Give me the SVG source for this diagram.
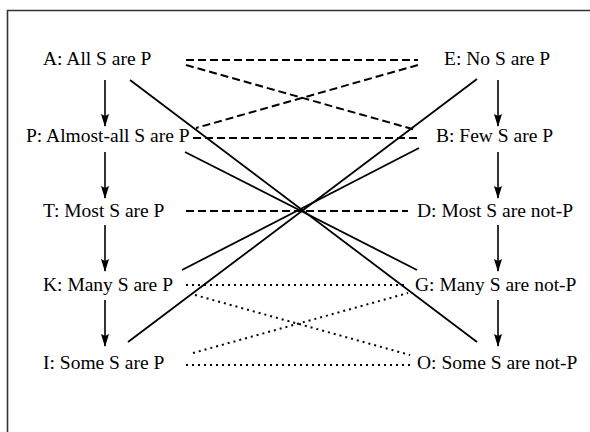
<svg xmlns="http://www.w3.org/2000/svg" width="590" height="432" viewBox="0 0 590 432">
<style>
text{font-family:"Liberation Serif","Times New Roman",serif;font-size:19.5px;fill:#000}
.s{stroke:#000;stroke-width:1.8;fill:none}
.d{stroke:#000;stroke-width:2;fill:none;stroke-dasharray:8 4}
.o{stroke:#000;stroke-width:2;fill:none;stroke-dasharray:2 4}
.a{stroke:#000;stroke-width:1.6;fill:none;marker-end:url(#ah)}
</style>
<defs>
<marker id="ah" markerWidth="13" markerHeight="8" refX="12" refY="4" orient="auto" markerUnits="userSpaceOnUse" viewBox="0 0 13 8">
<path d="M0,0 L13,4 L0,8 L2,4 Z" fill="#000"/>
</marker>
</defs>
<rect x="0" y="0" width="590" height="432" fill="#fff"/>
<path d="M7.5,432 V10.5 H590" stroke="#333" stroke-width="1.6" fill="none"/>
<g id="connectors">
<line class="d" x1="186" y1="60" x2="418" y2="60"/>
<line class="d" x1="186" y1="65" x2="416" y2="130"/>
<line class="d" x1="418" y1="65" x2="196" y2="128"/>
<line class="d" x1="193" y1="138" x2="418" y2="138"/>
<line class="d" x1="186" y1="211" x2="408" y2="211"/>
<line class="o" x1="186" y1="285" x2="407" y2="285"/>
<line class="o" x1="195" y1="295" x2="410" y2="355"/>
<line class="o" x1="193" y1="353" x2="408" y2="293"/>
<line class="o" x1="186" y1="365" x2="410" y2="365"/>
<line class="s" x1="130" y1="80" x2="477" y2="342"/>
<line class="s" x1="128" y1="342" x2="477" y2="79"/>
<line class="s" x1="185" y1="152" x2="417" y2="270"/>
<line class="s" x1="182" y1="270" x2="419" y2="148"/>
<line class="a" x1="105" y1="80" x2="105" y2="126"/>
<line class="a" x1="105" y1="152" x2="105" y2="198"/>
<line class="a" x1="105" y1="225" x2="105" y2="271"/>
<line class="a" x1="105" y1="300" x2="105" y2="346"/>
<line class="a" x1="498" y1="80" x2="498" y2="126"/>
<line class="a" x1="498" y1="152" x2="498" y2="198"/>
<line class="a" x1="498" y1="225" x2="498" y2="271"/>
<line class="a" x1="498" y1="300" x2="498" y2="346"/>
</g>
<g id="A"><text x="43" y="65">A: All S are P</text></g>
<g id="P"><text x="26" y="142">P: Almost-all S are P</text></g>
<g id="T"><text x="43" y="217">T: Most S are P</text></g>
<g id="K"><text x="43" y="291">K: Many S are P</text></g>
<g id="I"><text x="43" y="369">I: Some S are P</text></g>
<g id="E"><text x="444" y="65">E: No S are P</text></g>
<g id="B"><text x="436" y="142">B: Few S are P</text></g>
<g id="D"><text x="417" y="217">D: Most S are not-P</text></g>
<g id="G"><text x="415" y="291">G: Many S are not-P</text></g>
<g id="O"><text x="417" y="369">O: Some S are not-P</text></g>
</svg>
